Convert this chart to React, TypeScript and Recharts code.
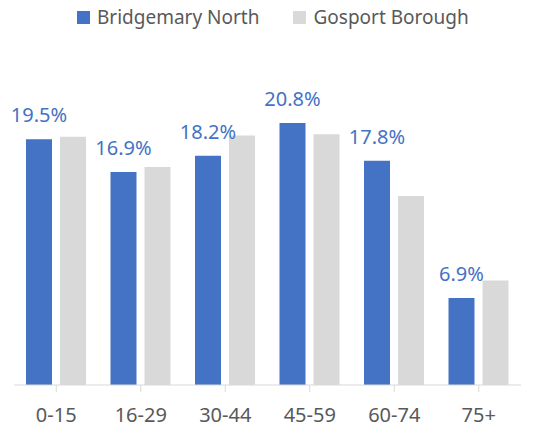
import { BarChart, Bar, XAxis, YAxis, Legend, LabelList } from 'recharts'

const ageBands = ['0-15', '16-29', '30-44', '45-59', '60-74', '75+']
const bridgemaryNorth = [19.5, 16.9, 18.2, 20.8, 17.8, 6.9]
const gosportBorough = [19.7, 17.3, 19.8, 19.9, 15.0, 8.3]

const BLUE = '#4472C4'
const GREY = '#D9D9D9'
const TEXT = '#595959'
const FONT = '"Noto Sans", sans-serif'

const data = ageBands.map((band, i) => ({
  band,
  north: bridgemaryNorth[i],
  gosport: gosportBorough[i],
}))

function LegendBox() {
  const items = [
    { name: 'Bridgemary North', color: BLUE },
    { name: 'Gosport Borough', color: GREY },
  ]
  return (
    <div style={{ display: 'flex', height: 30, alignItems: 'center', paddingLeft: 77, fontFamily: FONT, fontSize: 19, color: TEXT }}>
      {items.map((it, i) => (
        <div key={it.name} style={{ display: 'flex', alignItems: 'center', marginRight: i === 0 ? 34 : 0 }}>
          <span style={{ width: 13, height: 13, background: it.color, marginRight: 7, display: 'inline-block' }} />
          <span>{it.name}</span>
        </div>
      ))}
    </div>
  )
}

export default function App() {
  return (
    <div style={{ position: 'fixed', left: 0, top: 0, width: 560, height: 430, background: '#fff' }}>
      <BarChart width={560} height={430} data={data} barSize={26} barGap={8}
                margin={{ top: 40, right: 39, left: 14, bottom: 0 }}>
        <Legend verticalAlign="top" content={<LegendBox />}
                wrapperStyle={{ top: 2, left: 0, width: 560 }} />
        <XAxis dataKey="band" height={45} stroke={GREY} tickSize={7}
               tick={{ fill: TEXT, fontSize: 20, fontFamily: FONT, dy: 14 }}
               tickLine={{ stroke: GREY }} interval={0} />
        <YAxis hide domain={[0, 25]} />
        <Bar dataKey="north" fill={BLUE} isAnimationActive={false}>
          <LabelList dataKey="north" position="top" offset={17}
                     formatter={(v: any) => `${Number(v).toFixed(1)}%`}
                     style={{ fill: BLUE, fontSize: 20, fontFamily: FONT }} />
        </Bar>
        <Bar dataKey="gosport" fill={GREY} isAnimationActive={false} />
      </BarChart>
    </div>
  )
}
